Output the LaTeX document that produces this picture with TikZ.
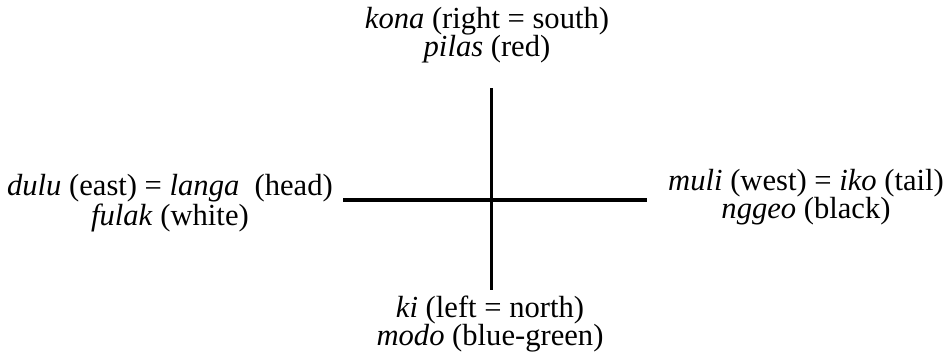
\documentclass[tikz,border=0pt]{standalone}
\usepackage{fontspec}
\setmainfont{Liberation Serif}
\tikzset{dirtext/.style={align=center, inner sep=0pt, font=\fontsize{30.6bp}{28bp}\selectfont}}

\begin{document}
\begin{tikzpicture}[x=1bp,y=1bp]
  \useasboundingbox (0,0) rectangle (951,363);
  \coordinate (w) at (343,163);  \coordinate (e) at (647,163);
  \coordinate (n) at (491,275);  \coordinate (s) at (491,73);
  \draw[line width=4bp] (w) -- (e);
  \draw[line width=3bp] (n) -- (s);

  % base = baseline of the lower line
  \node[dirtext, anchor=base]      (kona) at (487,307) {\textit{kona} (right = south)\\\textit{pilas} (red)};
  \node[dirtext, anchor=base]      (ki)   at (490,18)  {\textit{ki} (left = north)\\\textit{modo} (blue-green)};
  \node[dirtext, anchor=base east] (dulu) at (333,138) {\textit{dulu} (east) = \textit{langa}\ \ (head)\\\textit{fulak} (white)};
  \node[dirtext, anchor=base west] (muli) at (668,145) {\textit{muli} (west) = \textit{iko} (tail)\\\textit{nggeo} (black)};
\end{tikzpicture}
\end{document}
